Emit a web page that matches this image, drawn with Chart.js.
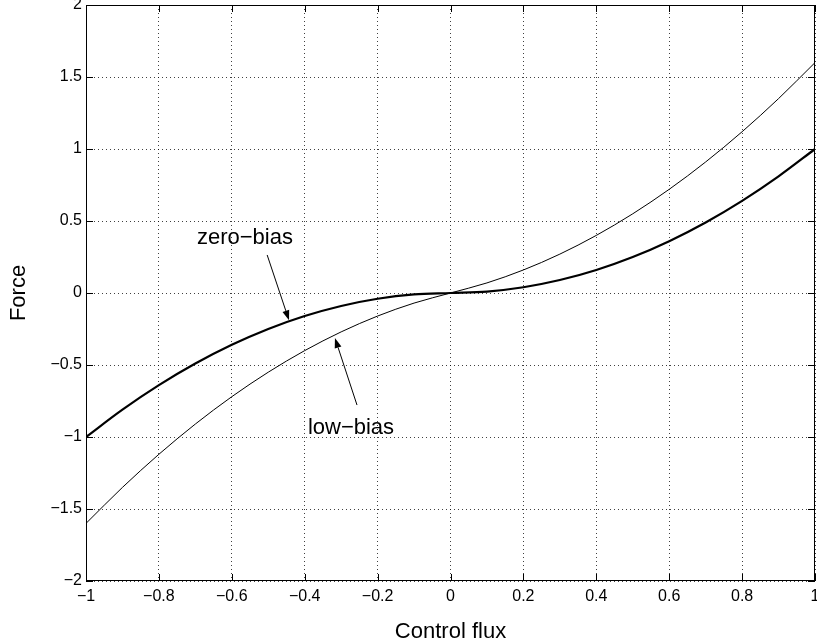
<!DOCTYPE html>
<html>
<head>
<meta charset="utf-8">
<script src="https://cdn.jsdelivr.net/npm/chart.js@4.4.1/dist/chart.umd.min.js"></script>
<style>
  html, body { margin: 0; padding: 0; background: #fff; }
  #wrap { width: 817px; height: 643px; position: relative; }
</style>
</head>
<body>
<div id="wrap"><canvas id="force"></canvas></div>
<script>
// values
const fluxValues = [-1, -0.9, -0.8, -0.7, -0.6, -0.5, -0.4, -0.3, -0.2, -0.1, 0,
                    0.1, 0.2, 0.3, 0.4, 0.5, 0.6, 0.7, 0.8, 0.9, 1];
const zeroBias = [-1, -0.81, -0.64, -0.49, -0.36, -0.25, -0.16, -0.09, -0.04, -0.01, 0,
                  0.01, 0.04, 0.09, 0.16, 0.25, 0.36, 0.49, 0.64, 0.81, 1];
const lowBias = [-1.6, -1.35, -1.12, -0.91, -0.72, -0.55, -0.4, -0.27, -0.16, -0.07, 0,
                 0.07, 0.16, 0.27, 0.4, 0.55, 0.72, 0.91, 1.12, 1.35, 1.6];

const xTicks = [-1, -0.8, -0.6, -0.4, -0.2, 0, 0.2, 0.4, 0.6, 0.8, 1];
const yTicks = [-2, -1.5, -1, -0.5, 0, 0.5, 1, 1.5, 2];

const FONT = '"Liberation Sans", Arial, Helvetica, sans-serif';

// labels with their arrows, in data units
const notes = [
  { text: 'zero\u2212bias', tx: -0.564, ty: 0.382, from: [-0.503, 0.264], to: [-0.443, -0.19] },
  { text: 'low\u2212bias',  tx: -0.273, ty: -0.9375, from: [-0.2565, -0.778], to: [-0.317, -0.3125] }
];

function fmt(v) {
  return v < 0 ? '\u2212' + String(-v) : String(v);
}

const frame = {
  id: 'frame',
  afterDatasetsDraw(chart) {
    const { ctx, chartArea: a, scales: { x, y } } = chart;
    ctx.save();
    ctx.strokeStyle = '#000';
    ctx.lineWidth = 1;
    ctx.setLineDash([]);
    ctx.strokeRect(a.left + 0.5, a.top + 0.5, a.right - a.left - 1, a.bottom - a.top - 1);

    // inward ticks on all four sides
    const len = 7;
    ctx.beginPath();
    xTicks.forEach(v => {
      const px = Math.round(x.getPixelForValue(v)) + 0.5;
      ctx.moveTo(px, a.bottom); ctx.lineTo(px, a.bottom - len);
      ctx.moveTo(px, a.top); ctx.lineTo(px, a.top + len);
    });
    yTicks.forEach(v => {
      const py = Math.round(y.getPixelForValue(v)) + 0.5;
      ctx.moveTo(a.left, py); ctx.lineTo(a.left + len, py);
      ctx.moveTo(a.right, py); ctx.lineTo(a.right - len, py);
    });
    ctx.stroke();

    // annotations
    ctx.fillStyle = '#000';
    ctx.font = '22px ' + FONT;
    ctx.textAlign = 'center';
    ctx.textBaseline = 'middle';
    notes.forEach(n => {
      ctx.fillText(n.text, x.getPixelForValue(n.tx), y.getPixelForValue(n.ty));
      const x0 = x.getPixelForValue(n.from[0]), y0 = y.getPixelForValue(n.from[1]);
      const x1 = x.getPixelForValue(n.to[0]), y1 = y.getPixelForValue(n.to[1]);
      const ang = Math.atan2(y1 - y0, x1 - x0);
      const hl = 10, hw = 3.5;
      ctx.beginPath();
      ctx.moveTo(x0, y0);
      ctx.lineTo(x1 - hl * Math.cos(ang), y1 - hl * Math.sin(ang));
      ctx.stroke();
      ctx.beginPath();
      ctx.moveTo(x1, y1);
      ctx.lineTo(x1 - hl * Math.cos(ang) + hw * Math.sin(ang), y1 - hl * Math.sin(ang) - hw * Math.cos(ang));
      ctx.lineTo(x1 - hl * Math.cos(ang) - hw * Math.sin(ang), y1 - hl * Math.sin(ang) + hw * Math.cos(ang));
      ctx.closePath();
      ctx.fill();
    });
    ctx.restore();
  }
};

const gridOpts = { color: 'rgba(0,0,0,0.75)', lineWidth: 1, drawTicks: false };

new Chart(document.getElementById('force'), {
  type: 'line',
  data: {
    datasets: [
      {
        label: 'zero-bias',
        data: fluxValues.map((v, i) => ({ x: v, y: zeroBias[i] })),
        borderColor: '#000',
        borderWidth: 2.2,
        pointRadius: 0,
        cubicInterpolationMode: 'monotone'
      },
      {
        label: 'low-bias',
        data: fluxValues.map((v, i) => ({ x: v, y: lowBias[i] })),
        borderColor: '#000',
        borderWidth: 1,
        pointRadius: 0,
        cubicInterpolationMode: 'monotone'
      }
    ]
  },
  options: {
    responsive: true,
    maintainAspectRatio: false,
    animation: false,
    layout: { padding: { top: 5, right: 2, left: 0, bottom: 0 } },
    plugins: { legend: { display: false }, tooltip: { enabled: false } },
    scales: {
      x: {
        type: 'linear',
        min: -1, max: 1,
        afterBuildTicks: s => { s.ticks = xTicks.map(v => ({ value: v })); },
        afterFit: s => { s.height = 62; s.paddingLeft = 0; s.paddingRight = 0; },
        grid: gridOpts,
        border: { display: false, dash: [1, 3] },
        ticks: {
          color: '#000', padding: 6, maxRotation: 0, autoSkip: false,
          font: { family: FONT, size: 16 },
          callback: v => fmt(v)
        },
        title: {
          display: true, text: 'Control flux', color: '#000',
          font: { family: FONT, size: 22, lineHeight: 1 },
          padding: { top: 0, bottom: 0 }
        }
      },
      y: {
        type: 'linear',
        min: -2, max: 2,
        afterBuildTicks: s => { s.ticks = yTicks.map(v => ({ value: v })); },
        afterFit: s => { s.width = 86; s.paddingTop = 0; s.paddingBottom = 0; },
        grid: gridOpts,
        border: { display: false, dash: [1, 3] },
        ticks: {
          color: '#000', padding: 4, autoSkip: false,
          font: { family: FONT, size: 16 },
          callback: v => fmt(v)
        },
        title: {
          display: true, text: 'Force', color: '#000',
          font: { family: FONT, size: 22, lineHeight: 1 },
          padding: { top: 8, bottom: 0 }
        }
      }
    }
  },
  plugins: [frame]
});
</script>
</body>
</html>
